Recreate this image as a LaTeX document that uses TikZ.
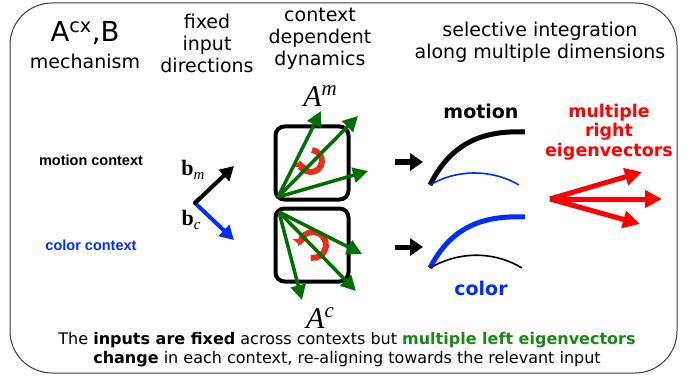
\documentclass[tikz,border=0pt]{standalone}
\usepackage{fontspec}
\setmainfont{DejaVu Sans}
\newfontfamily\arialfont{Liberation Sans}
\newfontfamily\timesfont{Liberation Serif}
\usetikzlibrary{arrows.meta}
\definecolor{eggreen}{RGB}{0,110,0}
\definecolor{txtgreen}{RGB}{25,135,25}
\definecolor{egblue}{RGB}{0,45,255}
\definecolor{rotred}{RGB}{235,45,25}
\definecolor{frame}{RGB}{60,60,60}
\tikzset{
  hdr/.style={align=center, inner sep=0pt, font=\fontsize{19}{22}\selectfont},
  ctxlabel/.style={inner sep=0pt, font=\arialfont\bfseries\fontsize{14.5}{16}\selectfont},
  box/.style={draw, line width=4pt, rounded corners=9pt},
  garrow/.style={draw=eggreen, line width=3.5pt, -{Triangle[length=15pt,width=15pt]}, fill=eggreen},
  barrow/.style={line width=4pt, -{Triangle[length=14pt,width=15pt]}},
  rarrow/.style={draw=red, line width=5pt, -{Triangle[length=17pt,width=17pt]}, fill=red},
  smallarrow/.style={line width=5pt, -{Triangle[length=13pt,width=17pt]}},
  rot/.style={draw=rotred, line width=6pt, -{Triangle[length=6pt,width=15pt]}},
  mathlbl/.style={inner sep=0pt, font=\timesfont},
}
\newcommand{\bigA}[1]{{\fontsize{30}{32}\selectfont\itshape A}\raisebox{11pt}{\fontsize{21}{22}\selectfont\itshape #1}}
\newcommand{\bvec}[1]{{\fontsize{22}{24}\selectfont\bfseries b}\raisebox{-4pt}{\fontsize{15}{16}\selectfont\itshape #1}}
\begin{document}
\begin{tikzpicture}[x=1pt,y=-1pt]
\useasboundingbox (0,0) rectangle (688,377);
\draw[frame, line width=1pt, rounded corners=42pt] (10,3) rectangle (677,373);

% headers
\node[inner sep=0pt, font=\fontsize{27.5}{30}\selectfont] (acx) at (85,33) {A\textsuperscript{cx},B};
\node[hdr] (mech) at (85,61) {mechanism};
\node[hdr] (fixed) at (207,43) {fixed\\input\\directions};
\node[hdr] (ctx) at (320,39) {context\\dependent\\dynamics};
\node[hdr] (sel) at (540,42) {selective integration\\along multiple dimensions};

% context labels
\node[ctxlabel] (mctx) at (91,160) {motion context};
\node[ctxlabel, text=egblue] (cctx) at (91,245) {color context};

% input vectors
\coordinate (bo) at (195,203);
\coordinate (bmt) at (234,166);
\coordinate (bct) at (234,240);
\draw[barrow] (bo) -- (bmt);
\draw[barrow, egblue] (bo) -- (bct);
\draw[line width=4pt, line cap=round] (bo) -- ++(4,-4);
\node[mathlbl] (bm) at (193,170) {\bvec{m}};
\node[mathlbl] (bc) at (191,220) {\bvec{c}};

% dynamics matrices
\node[mathlbl] (am) at (320,96) {\bigA{m}};
\node[mathlbl] (ac) at (320,318) {\bigA{c}};
\node[box, minimum width=73pt, minimum height=73pt] (upbox) at (312,163) {};
\node[box, minimum width=73pt, minimum height=73pt] (lowbox) at (312,245) {};

% rotation arrows (behind the eigenvectors)
\begin{scope}[shift={(311,161)}, x=1pt, y=1pt]
  \draw[rot] (85:11) arc[start angle=85, end angle=-180, radius=11];
\end{scope}
\begin{scope}[shift={(313,245)}, x=1pt, y=1pt]
  \draw[rot] (-100:13) arc[start angle=-100, end angle=180, radius=13];
\end{scope}

% left eigenvectors (upper)
\coordinate (uo) at (278,197);
\coordinate (u1) at (321,111);
\coordinate (u2) at (358,116);
\coordinate (u3) at (368,171);
\draw[garrow] (uo) -- (u1);
\draw[garrow] (uo) -- (u2);
\draw[garrow] (uo) -- (u3);

% left eigenvectors (lower)
\coordinate (lo) at (279,212);
\coordinate (l1) at (302,300);
\coordinate (l2) at (356,291);
\coordinate (l3) at (362,254);
\draw[garrow] (lo) -- (l1);
\draw[garrow] (lo) -- (l2);
\draw[garrow] (lo) -- (l3);

% small arrows
\coordinate (s1a) at (395,162);
\coordinate (s1b) at (423,162);
\coordinate (s2a) at (395,247);
\coordinate (s2b) at (423,247);
\draw[smallarrow] (s1a) -- (s1b);
\draw[smallarrow] (s2a) -- (s2b);

% integration curves
\coordinate (c1s) at (430,185);
\coordinate (c1e) at (525,132);
\draw[line width=5pt] (c1s) .. controls (450,145) and (480,130) .. (c1e);
\coordinate (c2e) at (519,185);
\draw[egblue, line width=1.6pt] (c1s) .. controls (455,170) and (490,168) .. (c2e);
\coordinate (c3s) at (430,268);
\coordinate (c3e) at (525,217);
\draw[egblue, line width=5pt] (c3s) .. controls (450,229) and (480,215) .. (c3e);
\coordinate (c4e) at (522,268);
\draw[line width=1.6pt] (c3s) .. controls (457,252) and (492,250) .. (c4e);

\node[inner sep=0pt, font=\bfseries\fontsize{19}{20}\selectfont] (mot) at (481,111) {motion};
\node[inner sep=0pt, font=\bfseries\fontsize{19}{20}\selectfont, text=egblue] (col) at (481,288) {color};

% right eigenvectors
\node[align=center, inner sep=0pt, text=red, font=\bfseries\fontsize{17.5}{19.5}\selectfont] (mre) at (609,132) {multiple\\right\\eigenvectors};
\coordinate (ro) at (550,199);
\coordinate (r1) at (642,172);
\coordinate (r2) at (662,199);
\coordinate (r3) at (640,224);
\draw[rarrow] (ro) -- (r1);
\draw[rarrow] (ro) -- (r2);
\draw[rarrow] (ro) -- (r3);

% caption
\node[align=center, inner sep=0pt, font=\fontsize{16}{19}\selectfont] (cap) at (347,350)
 {The \textbf{inputs are fixed} across contexts but \textcolor{txtgreen}{\textbf{multiple left eigenvectors}}\\
  \textbf{change} in each context, re-aligning towards the relevant input};
\end{tikzpicture}
\end{document}
